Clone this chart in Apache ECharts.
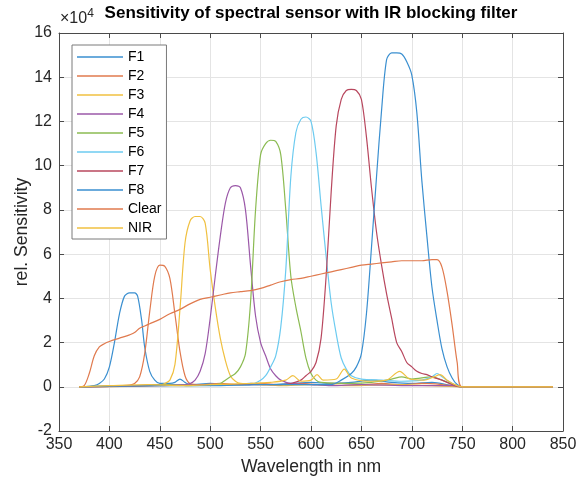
<!DOCTYPE html>
<html>
<head>
<meta charset="utf-8">
<script src="https://cdn.jsdelivr.net/npm/echarts@6/dist/echarts.min.js"></script>
<style>
  html, body { margin: 0; padding: 0; background: #fff; }
  #chart { width: 576px; height: 477px; }
</style>
</head>
<body>
<div id="chart"></div>
<script>
// values are in units of 1e4 (the axis carries the x10^4 factor)
var seriesNames = ['F1', 'F2', 'F3', 'F4', 'F5', 'F6', 'F7', 'F8', 'Clear', 'NIR'];
var seriesColors = ['#3a8fd0', '#e07a4e', '#f0c040', '#9b58a8', '#8bbb52', '#6ccbf0', '#b8475e', '#3a8fd0', '#e07a4e', '#f0c040'];

var f1 = [[370,0],[380,0.02],[385,0.05],[390,0.15],[395,0.35],[400,0.9],[405,2.0],[410,3.3],[415,4.1],[420,4.25],[425,4.25],[428,4.1],[432,3.0],[435,1.8],[440,0.7],[445,0.3],[450,0.15],[460,0.15],[465,0.2],[470,0.35],[475,0.2],[480,0.1],[500,0.15],[520,0.1],[540,0.15],[560,0.1],[580,0.15],[600,0.2],[620,0.15],[640,0.2],[660,0.3],[680,0.2],[700,0.15],[720,0.2],[740,0.05],[750,0],[840,0]];
var f2 = [[370,0],[400,0.02],[410,0.05],[420,0.08],[425,0.15],[430,0.45],[435,1.5],[440,3.4],[445,5.0],[450,5.5],[455,5.45],[460,4.9],[465,3.3],[470,1.6],[475,0.5],[480,0.15],[490,0.1],[510,0.15],[530,0.1],[550,0.15],[570,0.1],[590,0.15],[610,0.1],[630,0.15],[650,0.1],[670,0.15],[690,0.1],[710,0.15],[730,0.1],[745,0.02],[750,0],[840,0]];
var f3 = [[370,0],[420,0.02],[440,0.05],[450,0.08],[455,0.15],[460,0.3],[465,1.0],[470,3.5],[475,6.5],[480,7.5],[485,7.7],[490,7.7],[495,7.4],[500,5.3],[505,3.6],[510,2.2],[515,1.2],[520,0.5],[525,0.25],[530,0.15],[550,0.1],[570,0.05],[600,0.1],[640,0.05],[680,0.1],[720,0.05],[750,0],[840,0]];
var f4 = [[370,0],[420,0.03],[450,0.1],[470,0.08],[480,0.15],[485,0.3],[490,0.7],[495,1.5],[500,3.1],[505,5.0],[510,6.8],[515,8.3],[520,9.0],[525,9.1],[530,9.0],[535,8.0],[540,5.5],[545,3.2],[550,2.0],[555,1.4],[560,0.8],[565,0.5],[570,0.3],[580,0.15],[600,0.1],[620,0.05],[650,0.1],[700,0.05],[740,0.05],[750,0],[840,0]];
var f5 = [[370,0],[430,0.05],[460,0.1],[480,0.05],[500,0.08],[510,0.15],[515,0.3],[520,0.45],[525,0.6],[530,0.9],[535,1.5],[540,3.8],[545,8.0],[550,10.5],[555,11.0],[560,11.15],[565,11.1],[570,10.5],[575,8.0],[580,5.0],[585,3.6],[590,2.5],[595,1.3],[600,0.6],[605,0.3],[610,0.2],[640,0.15],[660,0.2],[680,0.35],[690,0.45],[700,0.35],[720,0.45],[730,0.3],[745,0.05],[750,0],[840,0]];
var f6 = [[370,0],[450,0.05],[500,0.1],[530,0.08],[540,0.1],[550,0.3],[555,0.5],[560,0.9],[565,1.4],[570,2.7],[575,5.3],[580,9.5],[585,11.5],[590,12.1],[595,12.2],[600,12.0],[605,10.6],[610,8.2],[615,5.9],[620,3.8],[625,2.4],[630,1.3],[635,0.8],[640,0.5],[650,0.35],[670,0.3],[690,0.25],[710,0.3],[720,0.45],[725,0.6],[730,0.45],[740,0.15],[750,0],[840,0]];
var f7 = [[370,0],[450,0.05],[500,0.1],[550,0.1],[570,0.1],[580,0.15],[590,0.3],[595,0.5],[600,0.7],[605,1.1],[610,2.2],[615,5.0],[620,8.8],[625,11.8],[630,13.0],[635,13.4],[640,13.45],[645,13.4],[650,13.0],[655,11.3],[660,9.0],[665,7.0],[670,5.5],[675,4.2],[680,3.1],[685,2.0],[690,1.6],[695,1.1],[700,0.9],[705,0.7],[710,0.6],[715,0.55],[720,0.45],[730,0.3],[740,0.1],[745,0.02],[750,0],[840,0]];
var f8 = [[370,0],[450,0.05],[500,0.05],[550,0.1],[600,0.1],[620,0.1],[630,0.3],[640,0.6],[645,0.9],[650,1.5],[655,3.3],[660,6.3],[665,9.5],[670,12.5],[675,14.8],[680,15.1],[685,15.1],[690,15.05],[695,14.7],[700,14.1],[705,12.4],[710,9.3],[715,6.8],[720,4.5],[725,3.0],[730,1.7],[735,0.9],[740,0.4],[745,0.1],[750,0],[840,0]];
var clear = [[370,0],[375,0.05],[380,0.6],[385,1.4],[390,1.8],[395,1.95],[400,2.05],[410,2.2],[420,2.35],[425,2.45],[430,2.65],[435,2.75],[440,2.85],[450,3.05],[460,3.3],[470,3.5],[480,3.75],[490,3.95],[500,4.05],[510,4.15],[520,4.25],[530,4.3],[540,4.35],[550,4.45],[560,4.6],[570,4.75],[580,4.85],[590,4.9],[600,5.0],[610,5.1],[620,5.2],[630,5.3],[640,5.4],[650,5.5],[660,5.55],[670,5.6],[680,5.65],[690,5.7],[700,5.7],[710,5.7],[720,5.75],[725,5.75],[730,5.4],[735,4.3],[740,2.8],[745,1.1],[750,0],[840,0]];
var nir = [[370,0],[400,0.05],[440,0.1],[470,0.05],[500,0.1],[540,0.15],[560,0.2],[575,0.3],[582,0.5],[590,0.25],[600,0.3],[606,0.55],[612,0.3],[625,0.35],[633,0.8],[640,0.4],[660,0.25],[675,0.3],[688,0.7],[698,0.35],[712,0.3],[722,0.45],[728,0.55],[735,0.3],[745,0.05],[750,0],[840,0]];

var allData = [f1, f2, f3, f4, f5, f6, f7, f8, clear, nir];

var chart = echarts.init(document.getElementById('chart'));
var FONT = 'Liberation Sans';
var axisColor = '#4a4a4a';
var gridColor = '#e4e4e4';

var series = seriesNames.map(function (name, i) {
    return {
        name: name,
        type: 'line',
        data: allData[i],
        symbol: 'none',
        smooth: 0.3,
        lineStyle: { width: 1.2, color: seriesColors[i] },
        itemStyle: { color: seriesColors[i] }
    };
});

var option = {
    animation: false,
    grid: { left: 59, right: 13, top: 33, bottom: 46, outerBoundsMode: 'none', containLabel: false },
    graphic: [{
        type: 'text',
        x: 311,
        y: 5,
        style: {
            text: 'Sensitivity of spectral sensor with IR blocking filter',
            font: 'bold 17px ' + FONT,
            fill: '#000',
            textAlign: 'center'
        }
    }, {
        type: 'text',
        x: 60,
        y: 8,
        style: {
            text: '×10{s|4}',
            font: '16px ' + FONT,
            fill: '#262626',
            rich: { s: { fontSize: 12, verticalAlign: 'top', padding: [0, 0, 9, 0] } }
        }
    }],
    legend: {
        orient: 'vertical',
        left: 72,
        top: 45,
        padding: [5, 5, 4, 5],
        icon: 'rect',
        itemWidth: 46,
        itemHeight: 1.3,
        itemGap: 5,
        backgroundColor: '#fff',
        borderColor: '#7a7a7a',
        borderWidth: 1,
        borderRadius: 0,
        textStyle: { fontSize: 14, fontFamily: FONT, color: '#000', height: 14, lineHeight: 14 },
        data: seriesNames
    },
    xAxis: [{
        type: 'value',
        min: 350, max: 850, interval: 50,
        name: 'Wavelength in nm',
        nameLocation: 'middle',
        nameGap: 27,
        nameTextStyle: { fontSize: 17.6, fontFamily: FONT, color: '#262626' },
        axisLine: { onZero: false, lineStyle: { color: axisColor } },
        axisTick: { inside: true, length: 5, lineStyle: { color: axisColor } },
        axisLabel: { fontSize: 16, fontFamily: FONT, color: '#262626', margin: 6 },
        splitLine: { show: true, lineStyle: { color: gridColor } }
    }, {
        type: 'value',
        position: 'top',
        min: 350, max: 850, interval: 50,
        axisLine: { onZero: false, lineStyle: { color: axisColor } },
        axisTick: { inside: true, length: 5, lineStyle: { color: axisColor } },
        axisLabel: { show: false },
        splitLine: { show: false }
    }],
    yAxis: [{
        type: 'value',
        min: -2, max: 16, interval: 2,
        name: 'rel. Sensitivity',
        nameLocation: 'middle',
        nameGap: 28,
        nameMoveOverlap: false,
        nameTextStyle: { fontSize: 17.6, fontFamily: FONT, color: '#262626' },
        axisLine: { show: true, onZero: false, lineStyle: { color: axisColor } },
        axisTick: { show: true, inside: true, length: 5, lineStyle: { color: axisColor } },
        axisLabel: { fontSize: 16, fontFamily: FONT, color: '#262626', margin: 7 },
        splitLine: { show: true, lineStyle: { color: gridColor } }
    }, {
        type: 'value',
        position: 'right',
        min: -2, max: 16, interval: 2,
        axisLine: { show: true, onZero: false, lineStyle: { color: axisColor } },
        axisTick: { show: true, inside: true, length: 5, lineStyle: { color: axisColor } },
        axisLabel: { show: false },
        splitLine: { show: false }
    }],
    series: series
};

chart.setOption(option);
</script>
</body>
</html>
